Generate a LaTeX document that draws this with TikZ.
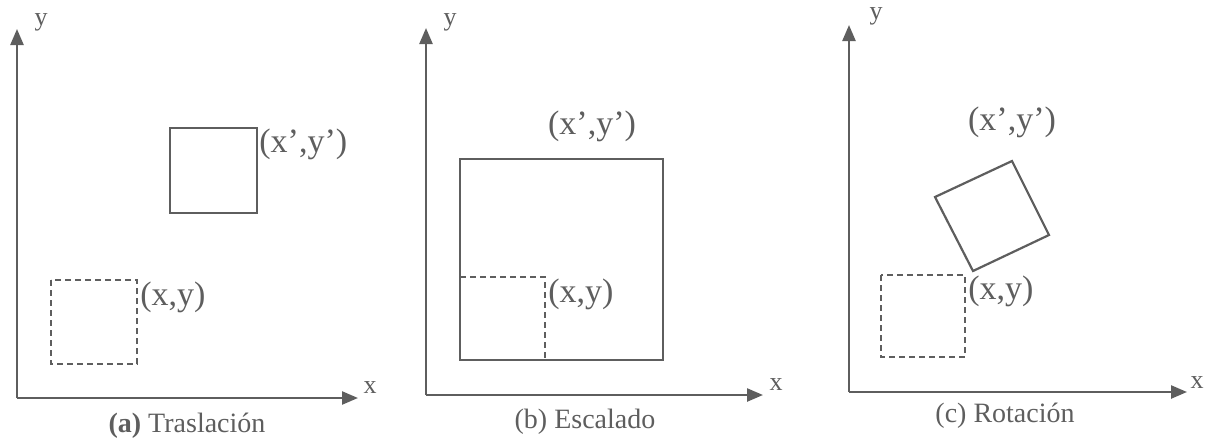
\documentclass[tikz,border=0pt]{standalone}
\usepackage{fontspec}
\setmainfont{Liberation Serif}
\usepackage{tikz}
\usetikzlibrary{arrows.meta}
\definecolor{inkgray}{HTML}{5E5E5E}

\begin{document}
\begin{tikzpicture}[
  x=0.5pt, y=-0.5pt,
  axis/.style={draw=inkgray, line width=1.2pt, -{Triangle[length=8pt, width=6.5pt]}},
  solidbox/.style={draw=inkgray, line width=1.1pt},
  dashedbox/.style={draw=inkgray, line width=0.9pt, dash pattern=on 3pt off 2pt},
  coordlabel/.style={text=inkgray, font=\fontsize{17}{19}\selectfont, inner sep=0pt},
  axislabel/.style={text=inkgray, font=\fontsize{13}{15}\selectfont, inner sep=0pt},
  captiontext/.style={text=inkgray, font=\fontsize{14}{16}\selectfont, inner sep=0pt}
]
\useasboundingbox (0,0) rectangle (1205,440);
% (a) Traslacion
\coordinate (oa) at (17,398);
\coordinate (xa) at (358,398);
\coordinate (ya) at (17,29);
\draw [axis] (oa) -- (xa);
\draw [axis] (oa) -- (ya);
\node (ya-lbl) [axislabel] at (41,22) {y};
\node (xa-lbl) [axislabel] at (370,388) {x};
\draw [solidbox] (170,128) rectangle (257,213);
\node (newa) [coordlabel, anchor=west] at (259,144) {(x’,y’)};
\draw [dashedbox] (51,280) rectangle (137,364);
\node (olda) [coordlabel, anchor=west] at (140,297) {(x,y)};
\node (capa) [captiontext] at (187,426) {\textbf{(a)} Traslación};
% (b) Escalado
\coordinate (ob) at (426,395);
\coordinate (xb) at (763,395);
\coordinate (yb) at (426,28);
\draw [axis] (ob) -- (xb);
\draw [axis] (ob) -- (yb);
\node (yb-lbl) [axislabel] at (450,22) {y};
\node (xb-lbl) [axislabel] at (776,385) {x};
\draw [solidbox] (460,159) rectangle (663,360);
\draw [dashedbox] (460,277) -| (545,360);
\node (oldb) [coordlabel, anchor=west] at (548,294) {(x,y)};
\node (newb) [coordlabel] at (592,126) {(x’,y’)};
\node (capb) [captiontext] at (585,422) {(b) Escalado};
% (c) Rotacion
\coordinate (oc) at (849,392);
\coordinate (xc) at (1187,392);
\coordinate (yc) at (849,25);
\draw [axis] (oc) -- (xc);
\draw [axis] (oc) -- (yc);
\node (yc-lbl) [axislabel] at (876,16) {y};
\node (xc-lbl) [axislabel] at (1197,383) {x};
\draw [solidbox] (935,197) -- (1012,161) -- (1049,235) -- (973,271) -- cycle;
\draw [dashedbox] (881,275) rectangle (965,357);
\node (oldc) [coordlabel, anchor=west] at (968,291) {(x,y)};
\node (newc) [coordlabel] at (1012,122) {(x’,y’)};
\node (capc) [captiontext] at (1005,416) {(c) Rotación};
\end{tikzpicture}
\end{document}
